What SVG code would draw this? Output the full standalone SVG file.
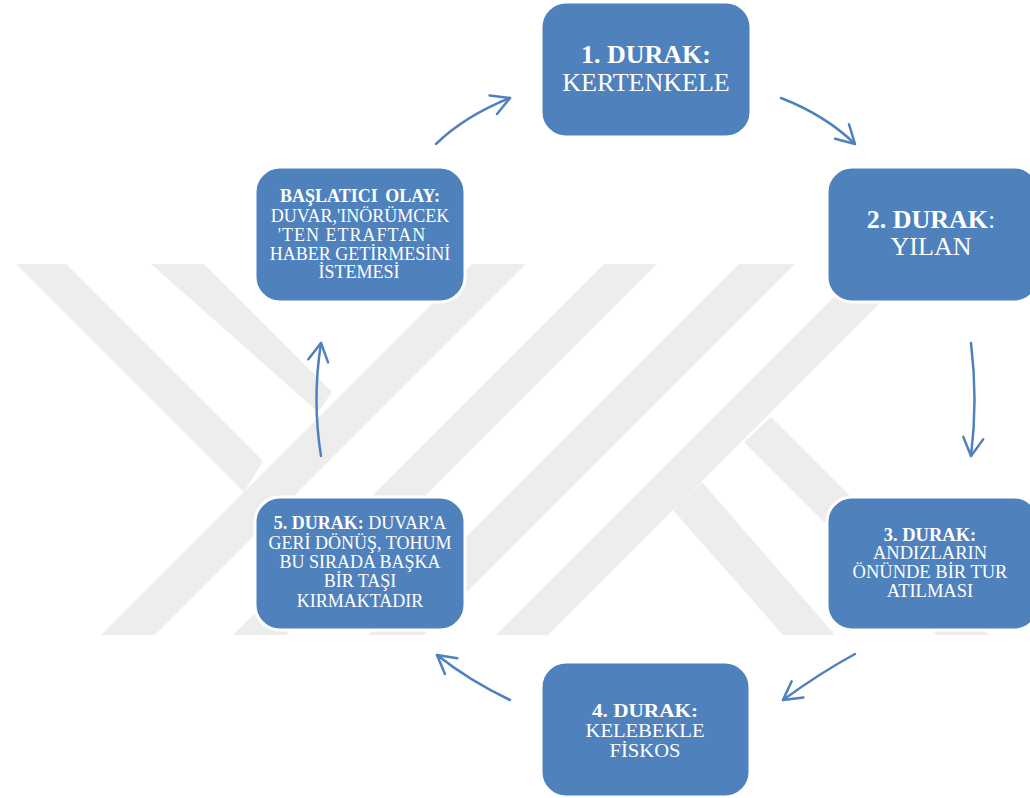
<svg xmlns="http://www.w3.org/2000/svg" width="1030" height="798" viewBox="0 0 1030 798">
<defs>
<style>
.wm{fill:#EDEDED}
.box{fill:#4F81BD;stroke:#FFFFFF;stroke-width:3}
.t{font-family:"Liberation Serif","Times New Roman",serif;fill:#FFFFFF;text-anchor:middle}
.b{font-weight:bold}
.c{fill:none;stroke:#4F81BD;stroke-width:2.5;stroke-linecap:round}
</style>
<marker id="ah" viewBox="0 0 22 24" refX="20" refY="12" markerWidth="22" markerHeight="24" markerUnits="userSpaceOnUse" orient="auto">
<path d="M2,2 L20,12 L2,22" fill="none" stroke="#4F81BD" stroke-width="2.5" stroke-linecap="round" stroke-linejoin="round"/>
</marker>
</defs>
<rect width="1030" height="798" fill="#FFFFFF"/>
<g id="watermark">
<polygon class="wm" points="16,264 66,264 263,461 244,492"/>
<polygon class="wm" points="151,264 204,264 332,392 318,412"/>
<polygon class="wm" points="472,264 526,264 155,635 101,635"/>
<polygon class="wm" points="604,264 657,264 286,635 233,635"/>
<polygon class="wm" points="739,264 795,264 424,635 368,635"/>
<polygon class="wm" points="867,264 919,264 548,635 496,635"/>
<polygon class="wm" points="673,510 702,482 835,635 783,635"/>
<polygon class="wm" points="744,442 771,417 989,635 937,635"/>
</g>
<g id="connectors">
<path class="c" d="M436,144 Q465,116 510,98" marker-end="url(#ah)"/>
<path class="c" d="M781,98 Q825,115 855,144" marker-end="url(#ah)"/>
<path class="c" d="M971,343 Q978,400 971,456" marker-end="url(#ah)"/>
<path class="c" d="M855,654 Q820,673 783,700" marker-end="url(#ah)"/>
<path class="c" d="M510,700 Q470,681 437,655" marker-end="url(#ah)"/>
<path class="c" d="M321,456 Q312,400 321,343" marker-end="url(#ah)"/>
</g>
<g id="node-start">
<rect class="box" x="255" y="167" width="210" height="135" rx="25"/>
<text class="t b" font-size="18" x="360" y="202" word-spacing="3">BAŞLATICI OLAY:</text>
<text class="t" font-size="18" x="360" y="222">DUVAR,'INÖRÜMCEK</text>
<text class="t" font-size="18" x="352" y="241" letter-spacing="1">'TEN ETRAFTAN</text>
<text class="t" font-size="18" x="360" y="260">HABER GETİRMESİNİ</text>
<text class="t" font-size="18" x="359" y="278">İSTEMESİ</text>
</g>
<g id="node-1">
<rect class="box" x="541" y="2" width="210" height="135" rx="25"/>
<text class="t b" font-size="26" x="646" y="63">1. DURAK:</text>
<text class="t" font-size="26" x="646" y="91">KERTENKELE</text>
</g>
<g id="node-2">
<rect class="box" x="827" y="167" width="212" height="135" rx="25"/>
<text class="t" font-size="26" x="931" y="228"><tspan class="b">2. DURAK</tspan>:</text>
<text class="t" font-size="26" x="931" y="255">YILAN</text>
</g>
<g id="node-3">
<rect class="box" x="827" y="497" width="212" height="133" rx="25"/>
<text class="t b" font-size="18.5" x="930" y="541">3. DURAK:</text>
<text class="t" font-size="18.5" x="930" y="559">ANDIZLARIN</text>
<text class="t" font-size="18.5" x="930" y="578">ÖNÜNDE BİR TUR</text>
<text class="t" font-size="18.5" x="930" y="597">ATILMASI</text>
</g>
<g id="node-4">
<rect class="box" x="541" y="662" width="209" height="135" rx="25"/>
<text class="t b" font-size="19" x="645" y="717" textLength="106" lengthAdjust="spacingAndGlyphs">4. DURAK:</text>
<text class="t" font-size="19" x="645" y="737" textLength="119" lengthAdjust="spacingAndGlyphs">KELEBEKLE</text>
<text class="t" font-size="19" x="645" y="757" textLength="71" lengthAdjust="spacingAndGlyphs">FİSKOS</text>
</g>
<g id="node-5">
<rect class="box" x="255" y="497" width="210" height="133" rx="25"/>
<text class="t" font-size="18" x="360" y="529"><tspan class="b">5. DURAK:</tspan> DUVAR'A</text>
<text class="t" font-size="18" x="360" y="549">GERİ DÖNÜŞ, TOHUM</text>
<text class="t" font-size="18" x="360" y="568">BU SIRADA BAŞKA</text>
<text class="t" font-size="18" x="360" y="587">BİR TAŞI</text>
<text class="t" font-size="18" x="360" y="607">KIRMAKTADIR</text>
</g>
</svg>
